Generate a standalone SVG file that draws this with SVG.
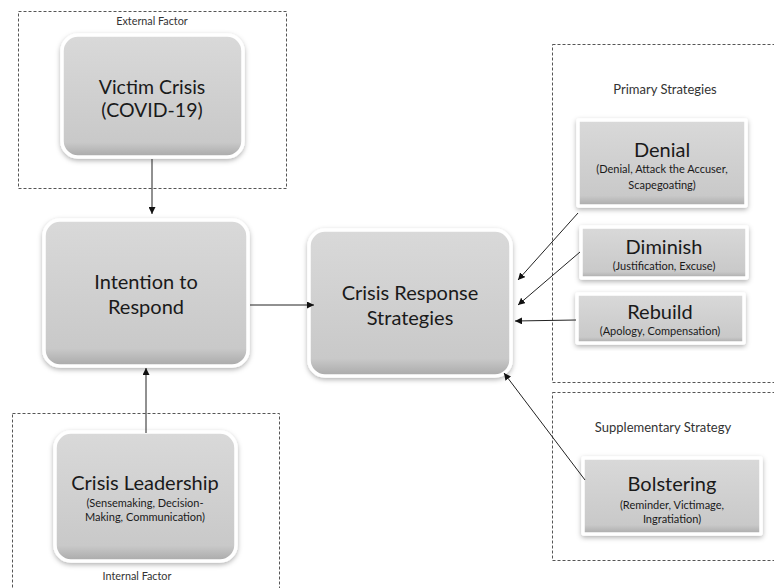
<svg xmlns="http://www.w3.org/2000/svg" width="774" height="588" viewBox="0 0 774 588">
  <defs>
    <linearGradient id="nodeFill" x1="0" y1="0" x2="0" y2="1">
      <stop offset="0" stop-color="#d9d9d9"/>
      <stop offset="0.88" stop-color="#c9c9c9"/>
      <stop offset="1" stop-color="#a9a9a9"/>
    </linearGradient>
    <filter id="shadow" x="-10%" y="-10%" width="120%" height="125%">
      <feDropShadow dx="0" dy="2" stdDeviation="2.5" flood-color="#000" flood-opacity="0.3"/>
    </filter>
    <marker id="arrow" viewBox="0 0 10 10" refX="10" refY="5" markerWidth="7" markerHeight="7" markerUnits="userSpaceOnUse" orient="auto">
      <path d="M0,0 L10,5 L0,10 z" fill="#111"/>
    </marker>
  </defs>
  <style>
    .frame { fill: none; stroke: #555; stroke-width: 1; stroke-dasharray: 3 2; }
    .node { fill: url(#nodeFill); stroke: #fff; stroke-width: 3.5; filter: url(#shadow); }
    .t { font-family: Lato, "Open Sans", sans-serif; fill: #1a1a1a; text-anchor: middle; }
    .big { font-size: 20px; }
    .sub { font-size: 11px; }
    .cap { font-size: 10.8px; fill: #333; }
    .capR { font-size: 13px; fill: #333; }
    .conn { stroke: #222; stroke-width: 1; fill: none; marker-end: url(#arrow); }
  </style>

  <rect width="774" height="588" fill="#fff"/>

  <!-- grouping frames -->
  <g id="frames">
    <rect class="frame" x="18.5" y="11.5" width="268" height="177"/>
    <text class="t cap" x="152" y="25">External Factor</text>
    <rect class="frame" x="12.5" y="413.5" width="267" height="190"/>
    <text class="t cap" x="137" y="580">Internal Factor</text>
    <rect class="frame" x="552.5" y="44.5" width="240" height="338"/>
    <text class="t capR" x="665" y="94">Primary Strategies</text>
    <rect class="frame" x="552.5" y="392.5" width="240" height="168"/>
    <text class="t capR" x="663" y="432">Supplementary Strategy</text>
  </g>

  <g id="victim-crisis">
    <rect class="node" x="62" y="35" width="181" height="122" rx="16"/>
    <text class="t big" x="152" y="94" style="font-size:19.5px">Victim Crisis</text>
    <text class="t big" x="152" y="117" style="font-size:19.5px">(COVID-19)</text>
  </g>

  <g id="intention">
    <rect class="node" x="44" y="220" width="204" height="146" rx="16"/>
    <text class="t big" x="146" y="289">Intention to</text>
    <text class="t big" x="146" y="314">Respond</text>
  </g>

  <g id="crisis-response">
    <rect class="node" x="309" y="230" width="202" height="146" rx="16"/>
    <text class="t big" x="410" y="300">Crisis Response</text>
    <text class="t big" x="410" y="325">Strategies</text>
  </g>

  <g id="crisis-leadership">
    <rect class="node" x="55" y="432" width="181" height="129" rx="16"/>
    <text class="t big" x="145" y="490">Crisis Leadership</text>
    <text class="t sub" x="145" y="507">(Sensemaking, Decision-</text>
    <text class="t sub" x="145" y="521">Making, Communication)</text>
  </g>

  <g id="denial">
    <rect class="node" x="578" y="120" width="168" height="86" rx="1"/>
    <text class="t big" x="662" y="157">Denial</text>
    <text class="t sub" x="662" y="173">(Denial, Attack the Accuser,</text>
    <text class="t sub" x="662" y="189">Scapegoating)</text>
  </g>

  <g id="diminish">
    <rect class="node" x="581" y="227" width="166" height="51" rx="1"/>
    <text class="t big" x="664" y="254">Diminish</text>
    <text class="t sub" x="664" y="270">(Justification, Excuse)</text>
  </g>

  <g id="rebuild">
    <rect class="node" x="577" y="294" width="167" height="49" rx="1"/>
    <text class="t big" x="660" y="319">Rebuild</text>
    <text class="t sub" x="660" y="335">(Apology, Compensation)</text>
  </g>

  <g id="bolstering">
    <rect class="node" x="583" y="458" width="178" height="76" rx="1"/>
    <text class="t big" x="672" y="491">Bolstering</text>
    <text class="t sub" x="672" y="509">(Reminder, Victimage,</text>
    <text class="t sub" x="672" y="523">Ingratiation)</text>
  </g>

  <!-- connectors, drawn over the node edges -->
  <g id="connectors">
    <line class="conn" x1="152" y1="159" x2="152" y2="214"/>
    <line class="conn" x1="146" y1="433" x2="146" y2="368"/>
    <line class="conn" x1="250" y1="305" x2="314" y2="305"/>
    <line class="conn" x1="578" y1="213" x2="518" y2="280"/>
    <line class="conn" x1="580" y1="252" x2="518" y2="305"/>
    <line class="conn" x1="576" y1="320" x2="515" y2="321"/>
    <line class="conn" x1="585" y1="480" x2="504" y2="373"/>
  </g>
</svg>
